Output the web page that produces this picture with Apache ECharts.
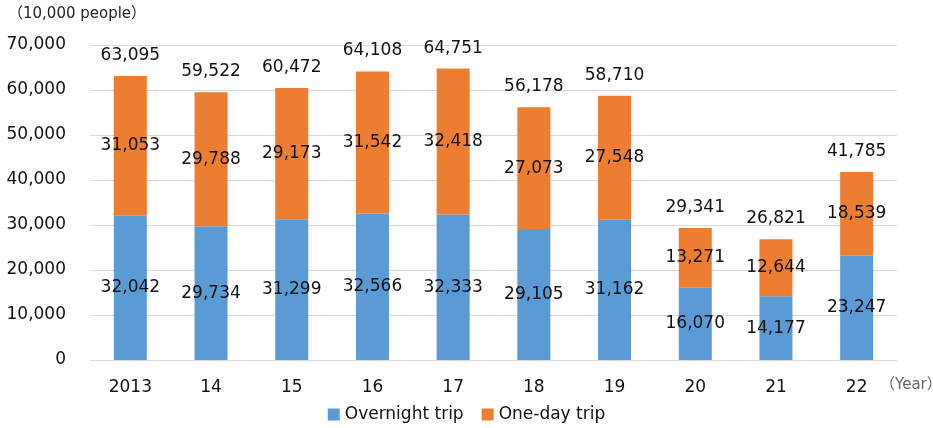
<!DOCTYPE html>
<html>
<head>
<meta charset="utf-8">
<script src="https://cdn.jsdelivr.net/npm/echarts@6/dist/echarts.min.js"></script>
<style>
  html, body { margin: 0; padding: 0; background: #fff; }
  #chart { width: 933px; height: 428px; }
</style>
</head>
<body>
<div id="chart"></div>
<script>
// data
const years = ['2013', '14', '15', '16', '17', '18', '19', '20', '21', '22']
const overnight = [32042, 29734, 31299, 32566, 32333, 29105, 31162, 16070, 14177, 23247]
const oneDay = [31053, 29788, 29173, 31542, 32418, 27073, 27548, 13271, 12644, 18539]
const totals = [63095, 59522, 60472, 64108, 64751, 56178, 58710, 29341, 26821, 41785]

const font = 'DejaVu Sans, Noto Sans CJK JP, sans-serif'
const fmt = v => v.toLocaleString('en-US')

let chart = echarts.init(document.getElementById('chart'))

const labelStyle = {
  show: true,
  position: 'inside',
  color: '#111',
  fontSize: 17,
  fontFamily: font,
  formatter: p => fmt(p.value)
}

const option = {
  animation: false,
  textStyle: { fontFamily: font },
  grid: { left: 90, right: 36, top: 45, bottom: 68 },
  graphic: [
    {
      type: 'text', left: 8, top: 7,
      style: { text: '（10,000 people）', fontSize: 15, fill: '#222', fontFamily: font }
    },
    {
      type: 'text', left: 880, top: 378,
      style: { text: '（Year）', fontSize: 15, fill: '#666', fontFamily: font }
    }
  ],
  legend: {
    data: ['Overnight trip', 'One-day trip'],
    bottom: 0,
    left: 'center',
    icon: 'rect',
    itemWidth: 12,
    itemHeight: 12,
    itemGap: 18,
    textStyle: { fontSize: 17, color: '#111', fontFamily: font }
  },
  xAxis: {
    type: 'category',
    data: years,
    axisTick: { show: false },
    axisLine: { lineStyle: { color: '#d9d9d9' } },
    axisLabel: { color: '#111', fontSize: 17, margin: 19, fontFamily: font }
  },
  yAxis: {
    type: 'value',
    min: 0,
    max: 70000,
    interval: 10000,
    axisLabel: { color: '#111', fontSize: 17, margin: 24, fontFamily: font, formatter: v => fmt(v) },
    splitLine: { lineStyle: { color: '#d9d9d9' } }
  },
  series: [
    {
      name: 'Overnight trip',
      type: 'bar',
      stack: 'trip',
      barWidth: 33,
      data: overnight,
      itemStyle: { color: '#5B9BD5' },
      label: labelStyle
    },
    {
      name: 'One-day trip',
      type: 'bar',
      stack: 'trip',
      data: oneDay,
      itemStyle: { color: '#ED7D31' },
      label: labelStyle
    },
    {
      name: 'total',
      type: 'bar',
      stack: 'trip',
      data: totals.map(() => 0),
      itemStyle: { color: 'transparent' },
      label: {
        show: true,
        position: 'top',
        distance: 12,
        color: '#111',
        fontSize: 17,
        fontFamily: font,
        formatter: p => fmt(totals[p.dataIndex])
      }
    }
  ]
}

chart.setOption(option, true)
</script>
</body>
</html>
